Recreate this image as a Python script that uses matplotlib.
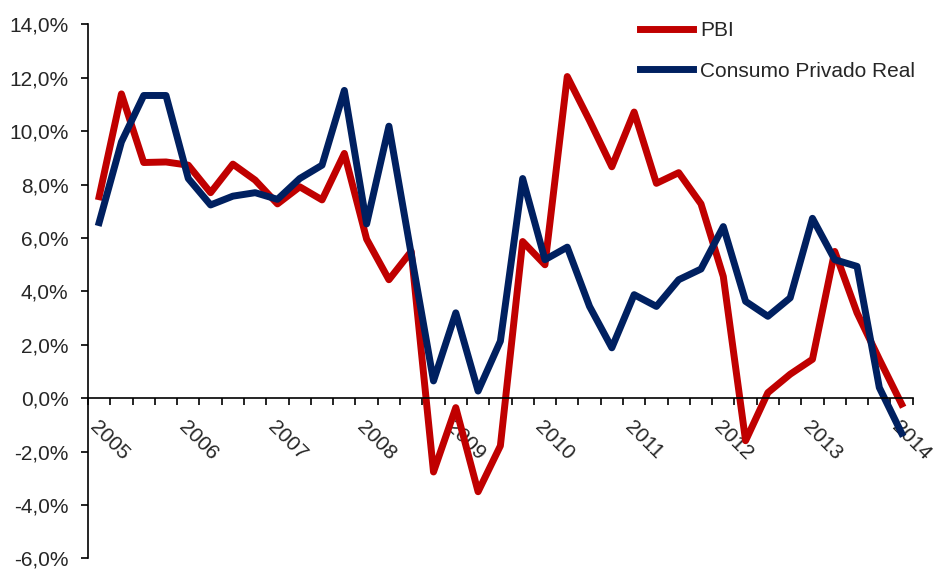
import matplotlib
matplotlib.use('Agg')
import matplotlib.pyplot as plt
from matplotlib.ticker import FixedLocator

plt.rcParams['font.family'] = ['Liberation Sans', 'DejaVu Sans']

# quarterly growth, 2005Q1 .. 2014Q1 (%)
pbi = [7.55, 11.4, 8.83, 8.85, 8.73, 7.7, 8.77, 8.17, 7.28, 7.92, 7.43, 9.17,
       5.96, 4.44, 5.5, -2.76, -0.35, -3.5, -1.78, 5.87, 5.0, 12.05, 10.4, 8.67,
       10.72, 8.05, 8.45, 7.28, 4.56, -1.59, 0.21, 0.9, 1.46, 5.5, 3.2, 1.46, -0.22]
consumo = [6.58, 9.6, 11.34, 11.34, 8.23, 7.24, 7.57, 7.7, 7.45, 8.23, 8.73, 11.53,
           6.53, 10.19, 5.4, 0.65, 3.2, 0.27, 2.14, 8.23, 5.19, 5.66, 3.44, 1.89,
           3.88, 3.44, 4.44, 4.84, 6.43, 3.63, 3.07, 3.76, 6.74, 5.19, 4.94, 0.4, -1.31]
years = ['2005', '2006', '2007', '2008', '2009', '2010', '2011', '2012', '2013', '2014']
y_ticks = [-6, -4, -2, 0, 2, 4, 6, 8, 10, 12, 14]
y_labels = ['-6,0%', '-4,0%', '-2,0%', '0,0%', '2,0%', '4,0%', '6,0%', '8,0%',
            '10,0%', '12,0%', '14,0%']

red = '#C00000'
navy = '#002060'
txt = '#262626'

fig = plt.figure(figsize=(9.41, 5.69), dpi=100)
ax = fig.add_axes([0.0935, 0.0185, 0.8765, 0.9385])

x = list(range(len(pbi)))
ax.plot(x, pbi, color=red, lw=5, label='PBI', solid_joinstyle='round')
ax.plot(x, consumo, color=navy, lw=5, label='Consumo Privado Real', solid_joinstyle='round')

ax.set_xlim(-0.5, len(pbi) - 0.5)
ax.set_ylim(-6, 14)

ax.spines['top'].set_visible(False)
ax.spines['right'].set_visible(False)
ax.spines['bottom'].set_position(('data', 0))
for s in ('left', 'bottom'):
    ax.spines[s].set_color('#000000')
    ax.spines[s].set_linewidth(1.2)

ax.set_yticks(y_ticks)
ax.set_yticklabels(y_labels)
ax.tick_params(axis='y', direction='out', length=5, width=1.2, pad=9,
               labelsize=15, labelcolor=txt)

# year labels every 4 quarters, tick marks between categories
ax.set_xticks(range(0, len(pbi), 4))
ax.set_xticklabels(years, rotation=-45, ha='left', va='top', rotation_mode='anchor')
ax.xaxis.set_minor_locator(FixedLocator([i + 0.5 for i in range(-1, len(pbi))]))
ax.tick_params(axis='x', which='major', length=0, pad=14, labelsize=15, labelcolor=txt)
ax.tick_params(axis='x', which='minor', direction='out', length=5, width=1.2)

ax.legend(loc='upper left', bbox_to_anchor=(0.680, 0.963), bbox_transform=fig.transFigure,
          frameon=False, fontsize=15, handlelength=2.55, handletextpad=0.35,
          labelspacing=1.04, borderpad=0, borderaxespad=0, labelcolor=txt)

fig.savefig('out.png', dpi=100)
